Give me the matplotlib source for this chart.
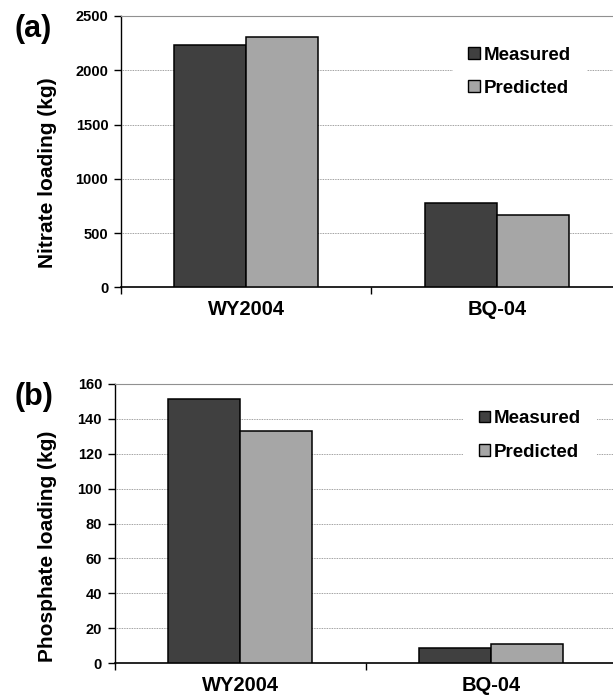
import matplotlib
matplotlib.use("Agg")
import matplotlib.pyplot as plt
import numpy as np
from matplotlib.patches import Patch

plt.rcParams['font.family'] = ['Liberation Sans', 'DejaVu Sans']
plt.rcParams['font.weight'] = 'bold'

categories = ["WY2004", "BQ-04"]
series_names = ["Measured", "Predicted"]
nitrate_measured = [2230, 777]
nitrate_predicted = [2306, 669]
phosphate_measured = [151.6, 8.8]
phosphate_predicted = [133, 10.9]
nitrate_ticks = [0, 500, 1000, 1500, 2000, 2500]
phosphate_ticks = [0, 20, 40, 60, 80, 100, 120, 140, 160]

c_meas = "#404040"
c_pred = "#a6a6a6"

fig = plt.figure(figsize=(6.13, 6.98), dpi=100)

def panel(rect, meas, pred, ticks, ylabel, ylab_xy, letter, letter_xy, leg_xy, spacing):
    ax = fig.add_axes(rect)
    x = np.arange(len(categories))
    w = 0.288
    ax.bar(x - w/2, meas, w, color=c_meas, edgecolor="black", linewidth=1.1, zorder=3)
    ax.bar(x + w/2, pred, w, color=c_pred, edgecolor="black", linewidth=1.1, zorder=3)
    ax.set_xlim(-0.5, len(categories) - 0.5)
    ax.set_ylim(ticks[0], ticks[-1])
    ax.set_yticks(ticks)
    ax.set_yticklabels([str(t) for t in ticks], fontsize=10.5, fontweight='bold')
    ax.set_xticks(x)
    ax.set_xticklabels(categories, fontsize=14.5, fontweight='bold')
    ax.tick_params(axis='x', which='major', length=0, pad=9)
    ax.set_xticks(np.arange(-0.5, len(categories) + 0.5, 1.0), minor=True)
    ax.tick_params(axis='x', which='minor', length=5, direction='out', width=1)
    ax.tick_params(axis='y', length=5, direction='out', width=1, pad=4)
    ax.yaxis.grid(True, linestyle=(0, (1, 1)), color="#808080", linewidth=0.6, zorder=0)
    ax.set_axisbelow(True)
    ax.spines['top'].set_color("#909090")
    ax.spines['right'].set_visible(False)
    ax.spines['left'].set_linewidth(1.0)
    ax.spines['bottom'].set_linewidth(1.2)
    fig.text(ylab_xy[0], ylab_xy[1], ylabel, fontsize=15, fontweight='bold',
             rotation=90, ha='center', va='center')
    fig.text(letter_xy[0], letter_xy[1], letter, fontsize=22, fontweight='bold',
             ha='center', va='center')
    handles = [Patch(facecolor=c_meas, edgecolor='black', linewidth=1.0),
               Patch(facecolor=c_pred, edgecolor='black', linewidth=1.0)]
    leg = ax.legend(handles, series_names, loc='center', bbox_to_anchor=leg_xy,
                    bbox_transform=fig.transFigure, frameon=True, fancybox=False,
                    edgecolor='none', facecolor='white', framealpha=1,
                    handlelength=0.6, handleheight=0.6, handletextpad=0.2,
                    labelspacing=spacing, borderpad=0.85,
                    prop={'size': 13.5, 'weight': 'bold'})
    leg.set_zorder(5)
    return ax

panel([0.197, 0.5884, 0.818, 0.3887], nitrate_measured, nitrate_predicted, nitrate_ticks,
      "Nitrate loading (kg)", (0.078, 0.753), "(a)", (0.054, 0.959), (0.8475, 0.897), 0.85)
panel([0.1868, 0.050, 0.819, 0.400], phosphate_measured, phosphate_predicted, phosphate_ticks,
      "Phosphate loading (kg)", (0.078, 0.218), "(b)", (0.055, 0.431), (0.864, 0.376), 0.9)

fig.savefig("out.png", dpi=100)
